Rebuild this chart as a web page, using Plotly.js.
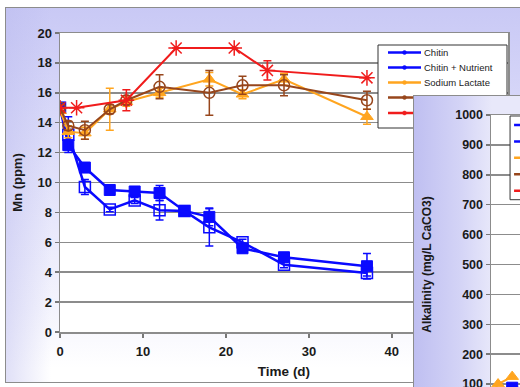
<!DOCTYPE html>
<html><head><meta charset="utf-8">
<script src="https://cdn.plot.ly/plotly-3.0.1.min.js"></script>
<style>
html,body{margin:0;padding:0;width:520px;height:387px;overflow:hidden;background:#fff;}
#frame{position:absolute;left:5px;top:7px;width:620px;height:374px;border:1.5px solid #8c8c8c;
background:linear-gradient(to right, rgba(186,186,238,0.45) 0px, rgba(186,186,238,0) 45px),
linear-gradient(to bottom, #c9c9f5 0px, #d6d6f8 90px, #f4f4fd 300px, #ffffff 360px);}
#main{position:absolute;left:0;top:0;width:520px;height:387px;}
#inset{position:absolute;left:413px;top:95px;width:450px;height:380px;border-left:1.5px solid #8c8c8c;border-top:1.5px solid #8c8c8c;
background:linear-gradient(to right,#bfbff1 0px,#d3d3f6 45px,#e8e8fa 78px);}
</style></head>
<body>
<div id="frame"></div>
<div id="main"></div>
<div id="inset"></div>
<script>
// ---- Mn (ppm) chart data ----
const seriesNames = ['Chitin', 'Chitin + Nutrient', 'Sodium Lactate', 'Series 4', 'Series 5'];
// legend texts visible in the picture (the last two entries are hidden under the inset)
const legendLabels = ['Chitin', 'Chitin + Nutrient', 'Sodium Lactate'];
const daysBlue = [0, 1, 3, 6, 9, 12, 15, 18, 22, 27, 37];
const mnChitin = [15.0, 12.5, 11.0, 9.5, 9.4, 9.3, 8.1, 7.7, 5.6, 5.0, 4.4];
const errChitin = [0.2, 0.3, 0.3, 0.2, 0.3, 0.5, 0.2, 0.6, 0.3, 0.3, 0.85];
const mnChitinNut = [15.0, 13.2, 9.7, 8.2, 8.8, 8.15, 8.1, 7.0, 6.0, 4.5, 3.95];
const errChitinNut = [0.2, 1.2, 0.5, 0.15, 0.2, 0.65, 0.1, 1.25, 0.2, 0.2, 0.2];
const daysOrgan = [0, 1, 3, 6, 8, 12, 18, 22, 27, 37];
const mnLactate = [14.8, 13.4, 13.3, 14.9, 15.4, 16.0, 16.9, 15.9, 16.9, 14.4];
const errLactate = [0.2, 0.4, 0.4, 1.4, 0.3, 0.3, 0.45, 0.3, 0.4, 0.5];
const mnBrown = [15.0, 13.8, 13.5, 14.9, 15.5, 16.4, 16.0, 16.5, 16.5, 15.5];
const errBrown = [0.2, 0.3, 0.6, 0.3, 0.3, 0.8, 1.5, 0.6, 0.7, 0.6];
const daysRed = [0, 2, 8, 14, 21, 25, 37];
const mnRed = [15.0, 15.0, 15.5, 19.0, 19.0, 17.5, 17.0];
const errRed = [0, 0, 0.7, 0, 0, 0.65, 0];
const xTicks = [0, 10, 20, 30, 40];

// ---- Alkalinity (inset) data: only the first days are visible ----
const alkDays = [0, 1, 3];
const alkChitin = [55, 70, 88];
const alkChitinNut = [50, 60, 70];
const alkLactate = [60, 100, 125];
const alkBrown = [50, 55, 60];
const alkRed = [45, 50, 55];
const alkTicks = [100, 200, 300, 400, 500, 600, 700, 800, 900, 1000];

const BLUE = '#0a0aff', ORANGE = '#ffa51f', BROWN = '#97461c', RED = '#f01c1c';
const COLORS = [BLUE, BLUE, ORANGE, BROWN, RED];
const FONT = 'Liberation Sans, Arial, Helvetica, sans-serif';

function tr(name, x, y, err, color, sym, size, lw, mlw, fill) {
  const t = {
    type: 'scatter', mode: 'lines+markers', name: name, x: x, y: y, showlegend: false,
    line: {color: color, width: lw},
    marker: {symbol: sym, size: size, color: fill, line: {color: color, width: mlw}}
  };
  if (err) t.error_y = {type: 'data', array: err, visible: true, color: color, thickness: 1.5, width: 4};
  return t;
}

// Legend box built in paper units (Excel-style compact legend)
function buildLegend(toX, toY, box, rows, keyX0, keyX1, labels, fontSize) {
  const shapes = [{type: 'rect', xref: 'paper', yref: 'paper', layer: 'above',
    x0: toX(box[0]), x1: toX(box[2]), y0: toY(box[1]), y1: toY(box[3]),
    fillcolor: '#ffffff', line: {color: '#333', width: 1}}];
  const annotations = [];
  rows.forEach((ry, i) => {
    shapes.push({type: 'line', xref: 'paper', yref: 'paper', layer: 'above',
      x0: toX(keyX0), x1: toX(keyX1), y0: toY(ry), y1: toY(ry),
      line: {color: COLORS[i], width: 2.5}});
    const cx = (keyX0 + keyX1) / 2;
    shapes.push({type: 'circle', xref: 'paper', yref: 'paper', layer: 'above',
      x0: toX(cx - 2), x1: toX(cx + 2), y0: toY(ry + 2), y1: toY(ry - 2),
      fillcolor: COLORS[i], line: {color: COLORS[i], width: 0.5}});
    if (labels[i]) annotations.push({xref: 'paper', yref: 'paper', x: toX(keyX1 + 1), y: toY(ry),
      xanchor: 'left', yanchor: 'middle', showarrow: false, text: labels[i],
      font: {size: fontSize, family: FONT, color: '#222'}});
  });
  return {shapes, annotations};
}

const mainTraces = [
  tr(seriesNames[0], daysBlue, mnChitin, errChitin, BLUE, 'square', 11, 2.5, 1, BLUE),
  tr(seriesNames[1], daysBlue, mnChitinNut, errChitinNut, BLUE, 'square-open', 11, 2.5, 1.5, BLUE),
  tr(seriesNames[2], daysOrgan, mnLactate, errLactate, ORANGE, 'triangle-up', 11, 2, 1, ORANGE),
  tr(seriesNames[3], daysOrgan, mnBrown, errBrown, BROWN, 'circle-open', 11, 2, 1.5, BROWN),
  tr(seriesNames[4], daysRed, mnRed, errRed, RED, 'asterisk-open', 13, 2, 1.5, RED)
];

const axisCommon = {
  showline: true, linecolor: '#8c8c8c', linewidth: 1.5, mirror: true,
  zeroline: false, ticks: 'outside', ticklen: 4, tickcolor: '#777', tickwidth: 1.5,
  tickfont: {size: 13, weight: 'bold', color: '#1a1a1a', family: FONT}
};

// main plot area: left 60, width 448, top 33, height 299 (page pixels)
const mainLeg = buildLegend(px => (px - 60) / 448, py => (332 - py) / 299,
  [378, 45, 507, 128], [52.5, 67.5, 82.5, 97.5, 113], 388, 421, legendLabels, 9.5);

const mainLayout = {
  width: 520, height: 387,
  margin: {l: 60, r: 12, t: 33, b: 55},
  paper_bgcolor: 'rgba(0,0,0,0)', plot_bgcolor: '#ffffff',
  font: {family: FONT, color: '#1a1a1a'},
  showlegend: false,
  shapes: mainLeg.shapes, annotations: mainLeg.annotations,
  xaxis: Object.assign({}, axisCommon, {
    range: [0, 54], tickvals: xTicks, showgrid: false, ticklabelstandoff: 3,
    title: {text: 'Time (d)', font: {size: 13.5, weight: 'bold', family: FONT}, standoff: 8}
  }),
  yaxis: Object.assign({}, axisCommon, {
    range: [0, 20], dtick: 2, showgrid: true, gridcolor: '#8c8c8c', gridwidth: 1.5,
    title: {text: 'Mn (ppm)', font: {size: 13, weight: 'bold', family: FONT}, standoff: 12}
  })
};

Plotly.newPlot('main', mainTraces, mainLayout, {staticPlot: true, displayModeBar: false});

const insetTraces = [
  tr(seriesNames[0], alkDays, alkChitin, null, BLUE, 'square', 11, 2.5, 1, BLUE),
  tr(seriesNames[1], alkDays, alkChitinNut, null, BLUE, 'square-open', 11, 2.5, 1.5, BLUE),
  tr(seriesNames[2], alkDays, alkLactate, null, ORANGE, 'triangle-up', 11, 2, 1, ORANGE),
  tr(seriesNames[3], alkDays, alkBrown, null, BROWN, 'circle-open', 11, 2, 1.5, BROWN),
  tr(seriesNames[4], alkDays, alkRed, null, RED, 'asterisk-open', 13, 2, 1.5, RED)
];

// inset plot area: left 491, width 352, top 115, height 300 (page pixels)
const insetLeg = buildLegend(px => (px - 491) / 352, py => (415 - py) / 300,
  [510, 116, 640, 200], [125, 141.5, 158, 174.5, 191], 514, 548, [], 9.5);

const insetLayout = {
  width: 450, height: 380,
  margin: {l: 77, r: 20, t: 19, b: 62},
  paper_bgcolor: 'rgba(0,0,0,0)', plot_bgcolor: '#ffffff',
  font: {family: FONT, color: '#1a1a1a'},
  showlegend: false,
  shapes: insetLeg.shapes,
  xaxis: Object.assign({}, axisCommon, {range: [0, 50], dtick: 10, showgrid: false, showticklabels: false}),
  yaxis: Object.assign({}, axisCommon, {
    range: [0, 1000], tickvals: alkTicks, showgrid: true, gridcolor: '#8c8c8c', gridwidth: 1.5,
    tickfont: {size: 12.5, weight: 'bold', color: '#1a1a1a', family: FONT},
    title: {text: 'Alkalinity (mg/L CaCO3)', font: {size: 12, weight: 'bold', family: FONT}, standoff: 21}
  })
};

Plotly.newPlot('inset', insetTraces, insetLayout, {staticPlot: true, displayModeBar: false});
</script>
</body></html>
